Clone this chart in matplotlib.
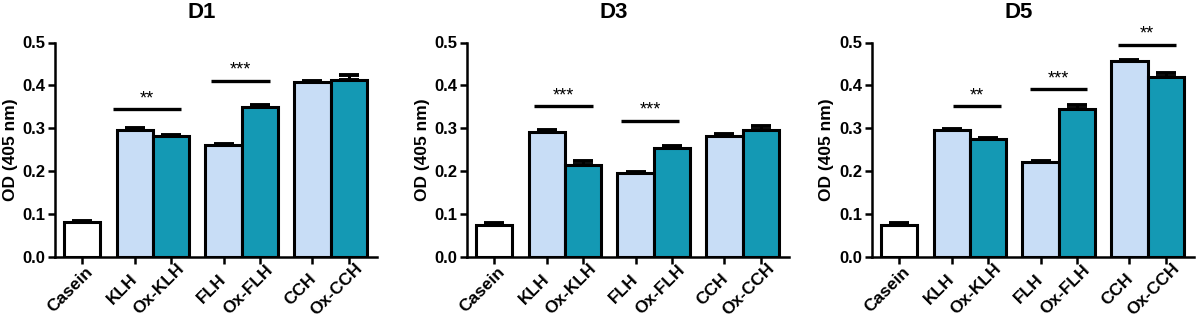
import matplotlib
matplotlib.use("Agg")
import matplotlib.pyplot as plt
from matplotlib.transforms import ScaledTranslation

plt.rcParams['font.family'] = ['Liberation Sans', 'DejaVu Sans']
plt.rcParams['font.weight'] = 'bold'

labels = ['Casein', 'KLH', 'Ox-KLH', 'FLH', 'Ox-FLH', 'CCH', 'Ox-CCH']
x_pos = [0, 1.45, 2.45, 3.9, 4.9, 6.35, 7.35]
bar_colors = ['white', '#c8ddf6', '#1499b4', '#c8ddf6', '#1499b4', '#c8ddf6', '#1499b4']

panel_titles = ['D1', 'D3', 'D5']

d1_mean = [0.082, 0.296, 0.282, 0.260, 0.350, 0.407, 0.412]
d1_err = [0.001, 0.004, 0.002, 0.003, 0.005, 0.004, 0.011]
d3_mean = [0.074, 0.292, 0.214, 0.195, 0.254, 0.281, 0.295]
d3_err = [0.004, 0.003, 0.010, 0.002, 0.005, 0.006, 0.010]
d5_mean = [0.074, 0.295, 0.275, 0.222, 0.345, 0.456, 0.419]
d5_err = [0.004, 0.004, 0.002, 0.002, 0.008, 0.004, 0.009]

# significance bars: (x start, x end, height, stars)
d1_sig = [(0.86, 2.73, 0.344, '**'), (3.56, 5.18, 0.410, '***')]
d3_sig = [(1.11, 2.72, 0.351, '***'), (3.49, 5.10, 0.317, '***')]
d5_sig = [(1.48, 2.82, 0.351, '**'), (3.60, 5.19, 0.391, '***'), (6.03, 7.64, 0.495, '**')]

means = [d1_mean, d3_mean, d5_mean]
errs = [d1_err, d3_err, d5_err]
sigs = [d1_sig, d3_sig, d5_sig]

W, H = 1196, 323
fig = plt.figure(figsize=(W / 100, H / 100), dpi=100)

ax_left = [55, 467, 872]
ax_width = 322
ax_bottom = 256.7
ax_top = 42.5

for i in range(3):
    ax = fig.add_axes([ax_left[i] / W, 1 - ax_bottom / H,
                       ax_width / W, (ax_bottom - ax_top) / H])
    ax.bar(x_pos, means[i], width=1.0, color=bar_colors, edgecolor='black',
           linewidth=2.2, zorder=3)
    lower = [0] * len(errs[i])
    ax.errorbar(x_pos, means[i], yerr=[lower, errs[i]], fmt='none',
                ecolor='black', elinewidth=2.2, capsize=7, capthick=2.8, zorder=2)

    for x0, x1, y, star in sigs[i]:
        ax.plot([x0, x1], [y, y], color='black', linewidth=2.4,
                solid_capstyle='butt', clip_on=False, zorder=4)
        ax.text((x0 + x1) / 2, y + 0.005, star, ha='center', va='bottom',
                fontsize=13, fontweight='normal', clip_on=False)

    ax.set_xlim(-0.75, 8.13)
    ax.set_ylim(0, 0.5)
    ax.set_yticks([0.0, 0.1, 0.2, 0.3, 0.4, 0.5])
    ax.set_yticklabels(['0.0', '0.1', '0.2', '0.3', '0.4', '0.5'],
                       fontsize=12, fontweight='bold')
    ax.set_xticks(x_pos)
    ax.set_xticklabels(labels, rotation=45, ha='center', va='center',
                       rotation_mode='anchor', fontsize=12.5, fontweight='bold')
    ax.tick_params(axis='both', direction='out', length=5, width=1.8)
    ax.tick_params(axis='y', pad=2)
    ax.tick_params(axis='x', pad=18.5)
    # shift the rotated labels a bit left, like the original software does
    # (after tick_params, which resets the label transforms)
    shift = ScaledTranslation(-0.12, 0, fig.dpi_scale_trans)
    for lab in ax.get_xticklabels():
        lab.set_transform(lab.get_transform() + shift)
    ax.spines['top'].set_visible(False)
    ax.spines['right'].set_visible(False)
    ax.spines['left'].set_linewidth(1.8)
    ax.spines['bottom'].set_linewidth(1.8)
    ax.set_ylabel('OD (405 nm)', fontsize=12.5, fontweight='bold', va='center')
    ax.yaxis.set_label_coords(-45 / ax_width, 0.5)
    ax.text(0.455, 1.142, panel_titles[i], transform=ax.transAxes,
            ha='center', va='center', fontsize=16, fontweight='bold')

fig.savefig('out.png', dpi=100)
